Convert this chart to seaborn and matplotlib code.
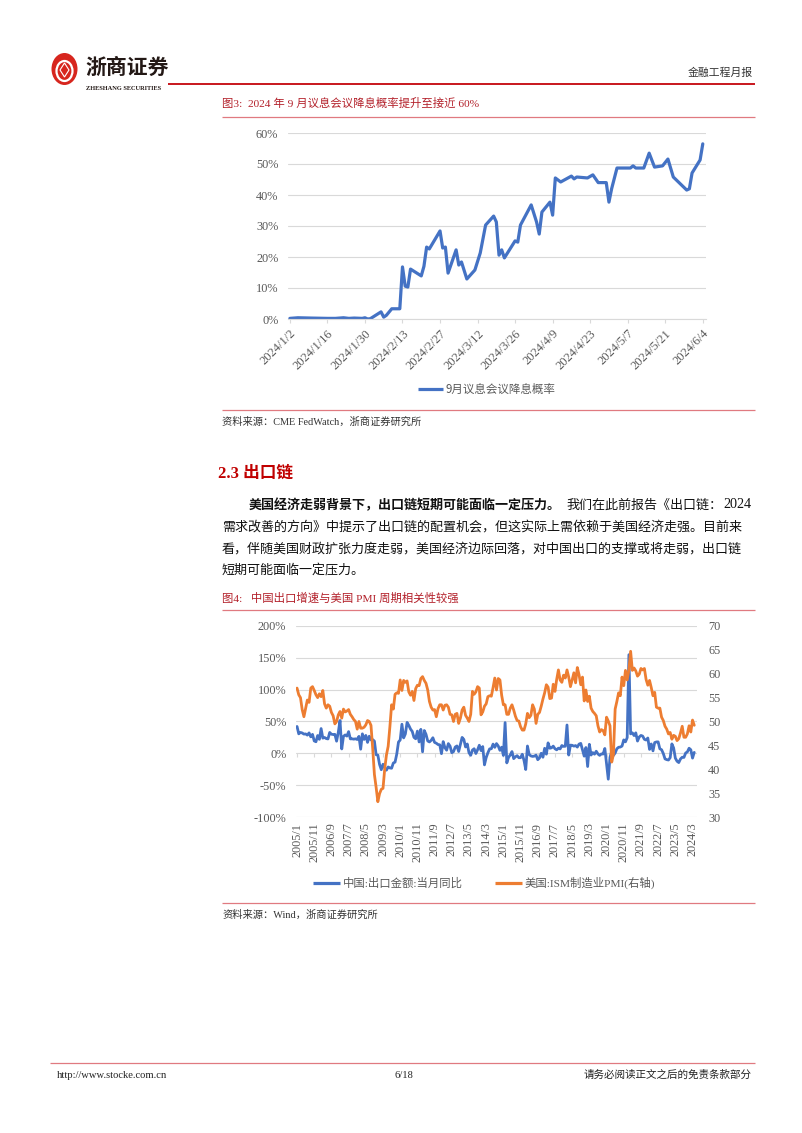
import numpy as np
import pandas as pd
import matplotlib
matplotlib.use("Agg")
import matplotlib.pyplot as plt
from matplotlib.lines import Line2D
from matplotlib.patches import Ellipse, Polygon
import seaborn as sns

# ---------------- data: chart 1 (FedWatch) ----------------
fed_dates = [
    "2024-01-02", "2024-01-05", "2024-01-10", "2024-01-16", "2024-01-19", "2024-01-22",
    "2024-01-24", "2024-01-26", "2024-01-29", "2024-01-30", "2024-01-31", "2024-02-01",
    "2024-02-05", "2024-02-06", "2024-02-07", "2024-02-09", "2024-02-12", "2024-02-13",
    "2024-02-14", "2024-02-15", "2024-02-16", "2024-02-20", "2024-02-21", "2024-02-22",
    "2024-02-23", "2024-02-27", "2024-02-28", "2024-02-29", "2024-03-01", "2024-03-04",
    "2024-03-05", "2024-03-06", "2024-03-08", "2024-03-11", "2024-03-13", "2024-03-15",
    "2024-03-18", "2024-03-19", "2024-03-20", "2024-03-21", "2024-03-22", "2024-03-26",
    "2024-03-27", "2024-03-28", "2024-04-01", "2024-04-03", "2024-04-04", "2024-04-05",
    "2024-04-08", "2024-04-09", "2024-04-10", "2024-04-12", "2024-04-16", "2024-04-17",
    "2024-04-18", "2024-04-22", "2024-04-24", "2024-04-26", "2024-04-29", "2024-04-30",
    "2024-05-01", "2024-05-03", "2024-05-08", "2024-05-09", "2024-05-10", "2024-05-13",
    "2024-05-15", "2024-05-17", "2024-05-20", "2024-05-22", "2024-05-24", "2024-05-29",
    "2024-05-30", "2024-05-31", "2024-06-03", "2024-06-04",
]
fed_prob = [
    0.002, 0.004, 0.003, 0.002, 0.002, 0.004,
    0.002, 0.003, 0.002, 0.004, 0.000, 0.001,
    0.023, 0.006, 0.012, 0.033, 0.033, 0.168,
    0.106, 0.103, 0.161, 0.139, 0.170, 0.232,
    0.226, 0.284, 0.229, 0.232, 0.148, 0.223,
    0.174, 0.184, 0.129, 0.158, 0.213, 0.303,
    0.332, 0.313, 0.206, 0.223, 0.197, 0.252,
    0.248, 0.303, 0.368, 0.313, 0.274, 0.345,
    0.377, 0.335, 0.455, 0.442, 0.461, 0.452,
    0.458, 0.455, 0.465, 0.440, 0.440, 0.377,
    0.420, 0.487, 0.487, 0.494, 0.487, 0.487,
    0.535, 0.490, 0.494, 0.516, 0.458, 0.416,
    0.420, 0.471, 0.513, 0.565,
]
fed_ticks = ["2024-01-02", "2024-01-16", "2024-01-30", "2024-02-13", "2024-02-27", "2024-03-12",
             "2024-03-26", "2024-04-09", "2024-04-23", "2024-05-07", "2024-05-21", "2024-06-04"]
fed_tick_labels = ["2024/1/2", "2024/1/16", "2024/1/30", "2024/2/13", "2024/2/27", "2024/3/12",
                   "2024/3/26", "2024/4/9", "2024/4/23", "2024/5/7", "2024/5/21", "2024/6/4"]
fed_label = "9月议息会议降息概率"

# ---------------- data: chart 2 (monthly, 2005/1 - 2024/4) ----------------
cn_export_yoy = [  # %
    42.2, 30.6, 32.8, 32.0, 30.2, 30.5, 28.6, 32.1, 25.9, 29.8, 19.5, 18.2,
    28.0, 22.0, 38.9, 23.9, 24.9, 23.2, 22.6, 32.8, 30.0, 29.6, 29.8, 19.1,
    33.0, 51.6, 6.9, 26.7, 28.9, 27.1, 34.1, 22.7, 22.8, 22.3, 22.8, 21.7,
    26.6, 6.5, 30.6, 21.8, 28.1, 17.2, 26.9, 21.1, 21.5, 19.2, -2.2, -2.8,
    -17.5, -25.7, -17.1, -22.6, -26.4, -21.4, -23.0, -23.4, -15.2, -13.8, -1.2, 17.7,
    21.0, 45.7, 24.3, 30.5, 48.5, 43.9, 38.1, 34.4, 25.1, 22.9, 34.9, 17.9,
    37.7, 2.4, 35.8, 29.9, 19.4, 17.9, 20.4, 24.5, 17.1, 15.9, 13.8, 13.4,
    -0.5, 18.4, 8.9, 4.9, 15.3, 11.3, 1.0, 2.7, 9.9, 11.6, 2.9, 14.1,
    25.0, 21.8, 10.0, 14.7, 1.0, -3.1, 5.1, 7.2, -0.3, 5.6, 12.7, 4.3,
    10.6, -18.1, -6.6, 0.9, 7.0, 7.2, 14.5, 9.4, 15.3, 11.6, 4.7, 9.7,
    -3.3, 48.3, -15.0, -6.4, -2.5, 2.8, -8.3, -5.5, -3.7, -6.9, -6.8, -1.4,
    -11.2, -25.4, 11.5, -1.8, -4.1, -4.8, -4.4, -2.8, -10.0, -7.3, 0.1, -6.1,
    7.9, -1.3, 16.4, 8.0, 8.7, 11.3, 7.2, 5.5, 8.1, 6.9, 12.3, 10.9,
    11.1, 44.5, -2.7, 12.9, 12.6, 11.3, 12.2, 9.8, 14.5, 15.6, 5.4, -4.4,
    9.1, -20.7, 14.2, -2.7, 1.1, -1.3, 3.3, -1.0, -3.2, -0.9, -1.1, 7.6,
    -17.2, -40.6, -6.6, 3.5, -3.3, 0.5, 7.2, 9.5, 9.9, 11.4, 21.1, 18.1,
    24.7, 154.9, 30.6, 32.3, 27.9, 32.2, 19.3, 25.6, 28.1, 27.1, 22.0, 20.9,
    24.1, 6.2, 14.7, 3.9, 16.9, 17.9, 18.0, 7.1, 5.7, -0.3, -8.7, -9.9,
    -10.5, -6.8, 14.8, 8.5, -7.5, -12.4, -14.5, -8.8, -6.2, -6.4, 0.5, 2.3,
    8.0, 5.6, -7.5, 1.5,
]
ism_pmi = [
    57.0, 55.6, 55.0, 52.5, 51.0, 52.8, 54.5, 54.0, 57.0, 57.3, 56.5, 55.6,
    55.0, 55.8, 55.2, 56.5, 53.7, 52.8, 53.5, 53.2, 51.9, 51.2, 49.5, 50.0,
    51.4, 52.1, 50.7, 52.6, 52.0, 52.2, 52.5, 51.5, 51.0, 50.4, 50.0, 48.4,
    50.0, 48.6, 48.6, 48.8, 49.3, 50.2, 50.0, 49.2, 44.4, 38.9, 36.2, 33.2,
    34.9, 35.8, 36.0, 40.1, 43.0, 44.8, 48.9, 53.5, 52.6, 55.7, 56.0, 55.9,
    58.7, 56.5, 58.6, 58.2, 58.5, 56.2, 55.5, 56.3, 54.4, 56.9, 57.6, 57.5,
    59.0, 59.4, 58.6, 58.0, 56.6, 54.2, 53.0, 52.4, 52.5, 51.0, 52.7, 53.5,
    53.5, 52.4, 53.4, 53.5, 53.0, 51.5, 51.4, 50.0, 51.5, 51.7, 49.6, 50.7,
    52.4, 53.0, 51.3, 50.7, 50.0, 51.5, 56.3, 55.7, 56.2, 57.3, 57.0, 51.4,
    52.0, 53.2, 53.7, 55.2, 55.4, 55.3, 57.1, 59.1, 56.6, 59.0, 58.7, 55.5,
    53.5, 53.5, 51.5, 51.5, 52.8, 53.5, 52.4, 51.1, 50.2, 50.1, 48.9, 48.2,
    48.2, 49.5, 51.7, 50.8, 51.3, 53.5, 52.6, 49.6, 51.5, 51.9, 53.2, 54.7,
    56.0, 57.7, 57.2, 54.8, 54.9, 57.8, 56.3, 58.8, 60.8, 58.7, 58.2, 59.7,
    59.1, 60.8, 59.3, 57.3, 58.7, 60.2, 58.1, 61.3, 59.8, 57.7, 59.3, 54.3,
    56.6, 54.2, 55.3, 52.8, 52.1, 51.7, 51.2, 49.1, 47.8, 48.3, 48.1, 47.2,
    50.9, 50.1, 49.1, 41.5, 43.1, 52.6, 54.2, 56.0, 55.4, 59.3, 57.5, 60.7,
    58.7, 60.8, 64.7, 60.7, 61.2, 60.6, 59.5, 59.9, 61.1, 60.8, 61.1, 58.8,
    57.6, 58.6, 57.1, 55.4, 56.1, 53.0, 52.8, 52.8, 50.9, 50.2, 49.0, 48.4,
    47.4, 47.7, 46.3, 47.1, 46.9, 46.0, 46.4, 47.6, 49.0, 46.7, 46.7, 47.4,
    49.1, 47.8, 50.3, 49.2,
]
month_tick_labels = ["2005/1", "2005/11", "2006/9", "2007/7", "2008/5", "2009/3", "2010/1", "2010/11",
                     "2011/9", "2012/7", "2013/5", "2014/3", "2015/1", "2015/11", "2016/9", "2017/7",
                     "2018/5", "2019/3", "2020/1", "2020/11", "2021/9", "2022/7", "2023/5", "2024/3"]
export_label = "中国:出口金额:当月同比"
pmi_label = "美国:ISM制造业PMI(右轴)"
left_ticks = [-1.0, -0.5, 0.0, 0.5, 1.0, 1.5, 2.0]
right_ticks = [30, 35, 40, 45, 50, 55, 60, 65, 70]

# ---------------- style ----------------
sns.set_theme(style="white")
FONTS = ["Liberation Serif", "Noto Sans CJK SC", "DejaVu Sans"]
CJK = ["Noto Sans CJK SC", "DejaVu Sans"]
plt.rcParams["font.family"] = FONTS
plt.rcParams["axes.unicode_minus"] = False

BLUE = "#4472C4"
ORANGE = "#ED7D31"
GRID = "#D9D9D9"
TICK = "#595959"
RED = "#B3202A"
PINK = "#E07A80"

W, H = 802, 1133
fig = plt.figure(figsize=(W / 100, H / 100), dpi=100)
fig.patch.set_facecolor("white")


def fx(x):
    return x / W


def fy(y):
    return 1 - y / H


def hline(x0, x1, y, color, lw):
    fig.add_artist(Line2D([fx(x0), fx(x1)], [fy(y), fy(y)], color=color, lw=lw,
                          transform=fig.transFigure, solid_capstyle="butt"))


def text(x, y, s, **kw):
    kw.setdefault("va", "center")
    return fig.text(fx(x), fy(y), s, **kw)


# ---------------- header ----------------
fig.add_artist(Ellipse((fx(64.5), fy(69)), 26 / W, 32 / H, transform=fig.transFigure,
                       facecolor="#D7261E", edgecolor="none"))
fig.add_artist(Ellipse((fx(64.5), fy(71)), 16 / W, 20 / H, transform=fig.transFigure,
                       facecolor="none", edgecolor="white", lw=1.6))
fig.add_artist(Polygon([(fx(64.5), fy(63)), (fx(69), fy(70)), (fx(64.5), fy(77)), (fx(60), fy(70))],
                       closed=True, transform=fig.transFigure, facecolor="#D7261E", edgecolor="white", lw=0.8))
text(85, 67, "浙商证券", fontsize=15, fontweight="bold", color="#231815", family=CJK)
text(86, 88, "ZHESHANG SECURITIES", fontsize=4.6, fontweight="bold", color="#231815",
     family=["Liberation Serif"])
text(753, 73, "金融工程月报", fontsize=7.8, color="#333333", ha="right", family=CJK)
hline(168, 755, 84, "#C8161D", 1.4)

# ---------------- figure 3 title ----------------
text(222, 103, "图3:  2024 年 9 月议息会议降息概率提升至接近 60%", fontsize=8.2, color=RED)
hline(222, 755, 117, PINK, 0.9)

# ---------------- chart 1 ----------------
ax1 = fig.add_axes([fx(288), fy(319), (706 - 288) / W, (319 - 133) / H])
df1 = pd.DataFrame({"date": pd.to_datetime(fed_dates), "prob": fed_prob})
sns.lineplot(data=df1, x="date", y="prob", ax=ax1, color=BLUE, lw=2.3, legend=False)
ax1.set_ylim(0, 0.6)
ax1.set_xlim(pd.Timestamp("2024-01-02") - pd.Timedelta(days=0.7),
             pd.Timestamp("2024-06-04") + pd.Timedelta(days=1.2))
ax1.set_xticks(pd.to_datetime(fed_ticks))
ax1.set_xticklabels(fed_tick_labels, rotation=45, ha="right", va="top", rotation_mode="anchor")
ax1.set_yticks([0, 0.1, 0.2, 0.3, 0.4, 0.5, 0.6])
ax1.set_yticklabels(["0%", "10%", "20%", "30%", "40%", "50%", "60%"])
ax1.set_xlabel("")
ax1.set_ylabel("")
ax1.grid(axis="y", color=GRID, lw=0.8)
ax1.grid(axis="x", visible=False)
for s in ["left", "right", "top"]:
    ax1.spines[s].set_visible(False)
ax1.spines["bottom"].set_color(GRID)
ax1.spines["bottom"].set_linewidth(0.8)
ax1.tick_params(axis="x", direction="out", length=3, width=0.8, color=GRID, labelsize=9.0,
                labelcolor=TICK, pad=3, bottom=True)
ax1.tick_params(axis="y", length=0, labelsize=8.8, labelcolor=TICK, pad=7)
ax1.set_facecolor("none")

# legend chart 1
hline(418, 443, 389, BLUE, 2.3)
text(446, 389, fed_label, fontsize=8.3, color=TICK, family=CJK)

hline(222, 755, 410, PINK, 0.9)
text(222, 422, "资料来源：CME FedWatch，浙商证券研究所", fontsize=7.4, color="#333333")

# ---------------- section text ----------------
text(218, 474, "2.3 出口链", fontsize=12, fontweight="bold", color="#C00000")
P = 9.4
pitch = 13.25
bold_part = "美国经济走弱背景下，出口链短期可能面临一定压力。"
text(222 + 2 * pitch, 505, bold_part, fontsize=P, fontweight="bold", color="#111111", family=CJK)
text(222 + (2 + len(bold_part)) * pitch, 505, "我们在此前报告《出口链：", fontsize=P,
     color="#111111", family=CJK)
text(752, 505, "2024", fontsize=P + 0.8, color="#111111", ha="right", family=["Liberation Serif"])
text(222, 527, "需求改善的方向》中提示了出口链的配置机会，但这实际上需依赖于美国经济走强。目前来",
     fontsize=P, color="#111111", family=CJK)
text(222, 549, "看，伴随美国财政扩张力度走弱，美国经济边际回落，对中国出口的支撑或将走弱，出口链",
     fontsize=P, color="#111111", family=CJK)
text(222, 570, "短期可能面临一定压力。", fontsize=P, color="#111111", family=CJK)

# ---------------- figure 4 title ----------------
text(222, 598, "图4:   中国出口增速与美国 PMI 周期相关性较强", fontsize=8.2, color=RED)
hline(222, 755, 610, PINK, 0.9)

# ---------------- chart 2 ----------------
ax2 = fig.add_axes([fx(296), fy(817), (697 - 296) / W, (817 - 626) / H])
n = len(cn_export_yoy)
df2 = pd.DataFrame({"m": np.arange(n), "exp": np.array(cn_export_yoy) / 100.0, "pmi": ism_pmi})
sns.lineplot(data=df2, x="m", y="exp", ax=ax2, color=BLUE, lw=2.0, legend=False)
ax2.set_xlim(-0.6, n + 0.6)
ax2.set_ylim(-1.0, 2.0)
ax2.set_yticks(left_ticks)
ax2.set_yticklabels([f"{int(round(v * 100))}%" for v in left_ticks])
tick_pos = np.arange(0, n, 10)
ax2.set_xticks(tick_pos)
ax2.set_xticklabels(month_tick_labels, rotation=90, ha="center", va="top")
ax2.set_xlabel("")
ax2.set_ylabel("")
ax2.grid(axis="y", color=GRID, lw=0.8)
ax2.grid(axis="x", visible=False)
for s in ax2.spines.values():
    s.set_visible(False)
ax2.tick_params(axis="x", length=0, labelsize=8.8, labelcolor=TICK, pad=4)
ax2.tick_params(axis="y", length=0, labelsize=8.8, labelcolor=TICK, pad=7)

# category axis crossing at 0%
sec = ax2.secondary_xaxis(1.0 / 3.0)
sec.set_xticks(tick_pos)
sec.set_xticklabels([])
sec.tick_params(axis="x", direction="out", length=3, width=0.8, color=GRID)
for s in sec.spines.values():
    s.set_visible(False)

ax3 = ax2.twinx()
sns.lineplot(data=df2, x="m", y="pmi", ax=ax3, color=ORANGE, lw=2.0, legend=False)
ax3.set_ylim(30, 70)
ax3.set_yticks(right_ticks)
ax3.set_yticklabels([str(v) for v in right_ticks])
ax3.set_ylabel("")
ax3.grid(False)
for s in ax3.spines.values():
    s.set_visible(False)
ax3.tick_params(axis="y", length=0, labelsize=8.8, labelcolor=TICK, pad=8)

# legend chart 2
hline(313, 340, 883, BLUE, 2.3)
text(343, 883, export_label, fontsize=8.2, color=TICK)
hline(495, 522, 883, ORANGE, 2.3)
text(525, 883, pmi_label, fontsize=8.2, color=TICK)

hline(222, 755, 903, PINK, 0.9)
text(222, 915, "资料来源：Wind，浙商证券研究所", fontsize=7.4, color="#333333")

# ---------------- footer ----------------
hline(50, 755, 1063, PINK, 0.9)
text(57, 1075, "http://www.stocke.com.cn", fontsize=7.6, color="#222222", family=["Liberation Serif"])
text(404, 1075, "6/18", fontsize=7.6, color="#222222", ha="center", family=["Liberation Serif"])
text(752, 1075, "请务必阅读正文之后的免责条款部分", fontsize=7.6, color="#222222", ha="right", family=CJK)

fig.savefig("out.png", dpi=100, facecolor="white")
